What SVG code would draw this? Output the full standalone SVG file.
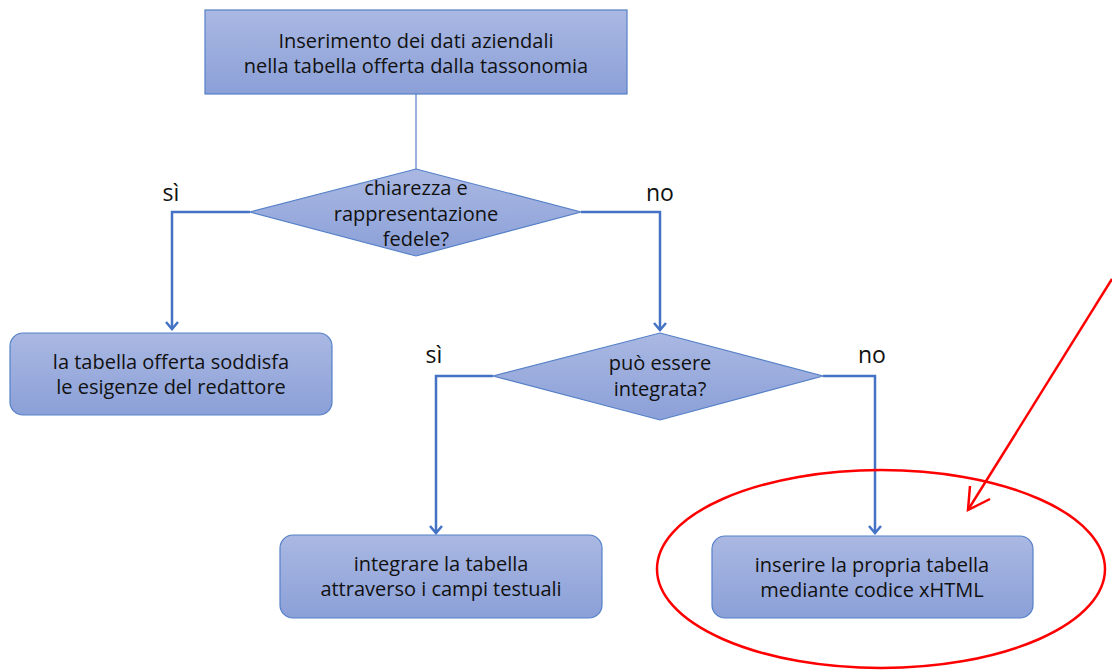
<svg xmlns="http://www.w3.org/2000/svg" width="1112" height="670" viewBox="0 0 1112 670">
<defs>
<linearGradient id="g" x1="0" y1="0" x2="0" y2="1">
<stop offset="0" stop-color="#aab8e2"/>
<stop offset="1" stop-color="#8ba0d8"/>
</linearGradient>
<marker id="arr" markerWidth="16" markerHeight="16" refX="8" refY="8" orient="auto" markerUnits="userSpaceOnUse">
<path d="M1,2 L8,8 L1,14" fill="none" stroke="#4472c4" stroke-width="2.5"/>
</marker>
<style>
.n{fill:url(#g);stroke:#5580c8;stroke-width:1.2}
.t{font-family:"Open Sans",Lato,sans-serif;font-size:20px;fill:#111;text-anchor:middle}
.l{font-family:"Open Sans",Lato,sans-serif;font-size:23px;fill:#111;text-anchor:middle}
.c{fill:none;stroke:#4472c4;stroke-width:2.5}
</style>
</defs>
<rect width="1112" height="670" fill="#fff"/>
<g id="connectors">
<line x1="416" y1="94" x2="416" y2="169" stroke="#5580c8" stroke-width="1.2"/>
<path class="c" d="M250,212 H172 V329" marker-end="url(#arr)"/>
<path class="c" d="M581,212 H660 V330" marker-end="url(#arr)"/>
<path class="c" d="M493,376 H436 V533" marker-end="url(#arr)"/>
<path class="c" d="M823,376 H875 V533" marker-end="url(#arr)"/>
<text class="l" x="171" y="201">sì</text>
<text class="l" x="660" y="201">no</text>
<text class="l" x="434" y="363">sì</text>
<text class="l" x="872" y="363">no</text>
</g>
<g id="start">
<rect class="n" x="205" y="10" width="422" height="84"/>
<text class="t" x="416" y="48">Inserimento dei dati aziendali</text>
<text class="t" x="416" y="73">nella tabella offerta dalla tassonomia</text>
</g>
<g id="decision1">
<polygon class="n" points="416,169 581,212 416,256 250,212"/>
<text class="t" x="416" y="195">chiarezza e</text>
<text class="t" x="416" y="221">rappresentazione</text>
<text class="t" x="416" y="246">fedele?</text>
</g>
<g id="box-yes1">
<rect class="n" x="10" y="333" width="322" height="82" rx="13"/>
<text class="t" x="171" y="369">la tabella offerta soddisfa</text>
<text class="t" x="171" y="394">le esigenze del redattore</text>
</g>
<g id="decision2">
<polygon class="n" points="660,333 823,376 660,420 493,376"/>
<text class="t" x="660" y="370">può essere</text>
<text class="t" x="660" y="396">integrata?</text>
</g>
<g id="box-yes2">
<rect class="n" x="280" y="535" width="322" height="83" rx="13"/>
<text class="t" x="441" y="571">integrare la tabella</text>
<text class="t" x="441" y="596">attraverso i campi testuali</text>
</g>
<g id="box-no2">
<rect class="n" x="712" y="536" width="321" height="82" rx="13"/>
<text class="t" x="872" y="572">inserire la propria tabella</text>
<text class="t" x="872" y="597">mediante codice xHTML</text>
</g>
<g id="highlight" fill="none" stroke="#ff0000" stroke-width="2.5">
<ellipse cx="881" cy="569" rx="224" ry="99"/>
<line x1="1112" y1="279" x2="968" y2="510"/>
<path d="M970,486 L968,510 L990,499"/>
</g>
</svg>
